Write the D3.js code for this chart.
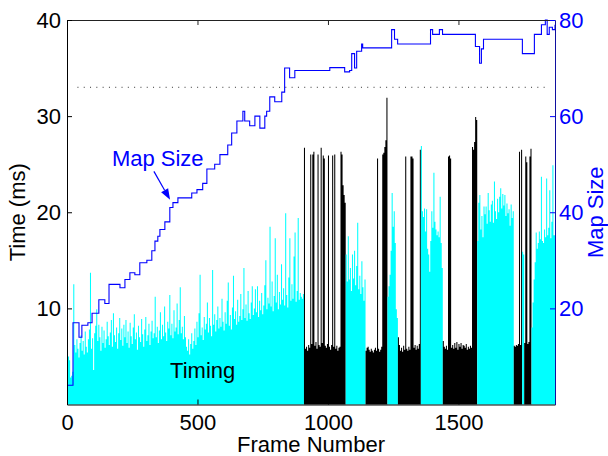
<!DOCTYPE html>
<html>
<head>
<meta charset="utf-8">
<script src="https://cdn.jsdelivr.net/npm/d3@7"></script>
<style>
body { margin: 0; background: #fff; }
text { font-family: "Liberation Sans", Arial, Helvetica, sans-serif; }
</style>
</head>
<body>
<script>
// timing per frame bin (ms), one value per 4 frames
const binSize = 4;
const timing = [
  5.0, 5.0, 4.6, 2.8, 3.0, 3.4, 12.5, 6.2, 5.4, 6.8, 5.8, 4.9, 6.4, 7.2, 5.6, 6.6, 5.2, 7.6, 6.0, 5.4,
  6.8, 7.8, 13.7, 5.8, 6.9, 3.6, 7.4, 8.2, 9.9, 6.6, 8.3, 7.0, 5.6, 8.1, 6.4, 7.7, 5.9, 6.8, 8.6, 7.1,
  6.2, 7.5, 8.8, 6.0, 9.5, 7.2, 6.5, 8.0, 5.8, 7.4, 9.0, 6.7, 7.9, 6.1, 8.3, 7.0, 8.8, 6.4, 7.6, 5.9,
  8.5, 7.1, 6.3, 8.0, 9.4, 6.8, 7.5, 5.7, 8.2, 7.0, 6.5, 8.9, 7.3, 6.0, 7.8, 9.1, 6.6, 7.2, 8.4, 6.2,
  7.6, 8.7, 6.9, 7.4, 11.2, 7.0, 8.1, 6.4, 7.7, 9.6, 6.8, 8.3, 7.1, 10.2, 7.5, 6.6, 8.6, 7.9, 11.4, 7.2,
  8.4, 6.9, 9.8, 7.6, 8.0, 10.5, 7.3, 8.8, 12.2, 7.4, 8.1, 6.8, 9.2, 7.0, 6.0, 5.6, 6.8, 5.2, 6.3, 7.4,
  5.8, 6.6, 7.9, 6.2, 8.6, 7.0, 9.5, 13.5, 7.2, 8.0, 6.7, 9.1, 7.8, 8.4, 10.6, 7.5, 9.0, 8.2, 7.1, 14.0,
  8.3, 9.4, 7.6, 8.8, 10.2, 7.9, 9.0, 8.1, 11.0, 8.6, 7.7, 9.6, 8.4, 10.8, 12.7, 8.2, 9.3, 7.8, 10.1, 13.4,
  8.9, 9.7, 8.3, 10.9, 8.6, 9.2, 11.5, 8.8, 9.9, 14.2, 9.0, 10.4, 8.7, 11.8, 9.5, 8.9, 10.6, 12.3, 9.3, 10.0,
  12.0, 9.6, 12.3, 9.1, 10.8, 9.8, 11.6, 9.4, 10.3, 12.4, 15.0, 9.9, 11.1, 10.5, 18.5, 10.2, 12.8, 9.7, 11.3, 17.3,
  10.6, 13.5, 9.9, 11.7, 10.4, 14.6, 10.9, 12.1, 10.3, 19.9, 11.4, 10.1, 13.2, 17.3, 10.8, 12.5, 11.0, 15.4, 17.9, 10.7,
  11.8, 19.4, 10.9, 11.6, 11.2, 11.0, 11.5,
  // black 908-1068
  26.7, 5.8, 6.0, 5.6, 6.2, 5.9, 26.0, 6.3, 26.0, 26.3, 6.1, 6.5, 5.8, 26.0, 6.2, 6.0, 26.7, 6.4, 25.9, 25.6,
  6.1, 5.9, 6.3, 25.9, 6.0, 5.7, 6.2, 25.9, 6.0, 26.0, 5.8, 6.1, 5.6, 5.9, 6.0, 26.3, 26.0, 22.8, 21.8, 21.0,
  // cyan 1068-1144
  15.6, 12.8, 17.5, 13.0, 14.2, 11.8, 15.6, 13.1, 16.0, 12.4, 14.4, 18.9, 12.0, 13.4, 11.5, 14.9, 12.2, 10.8, 13.0,
  // black 1144-1228
  5.6, 5.9, 6.0, 5.7, 5.5, 5.8, 5.6, 5.4, 5.7, 5.9, 5.6, 25.6, 5.8, 5.5, 5.7, 6.0, 26.0, 26.2, 26.8, 27.5, 31.9,
  // cyan 1228-1268
  11.2, 12.3, 13.5, 16.0, 22.0, 18.5, 20.1, 16.8, 9.9, 9.0,
  // black 1268-1356
  7.0, 6.2, 5.6, 5.9, 5.5, 6.1, 5.7, 25.8, 5.8, 5.6, 6.0, 5.7, 25.8, 25.8, 25.6, 5.9, 6.2, 5.7, 6.1, 5.8, 6.3, 26.5,
  // cyan 1356-1440
  26.9, 20.1, 19.5, 20.4, 18.0, 20.3, 16.2, 15.6, 13.8, 17.0, 20.1, 18.4, 24.1, 19.0, 18.2, 17.6, 18.0, 17.4, 21.6, 16.8, 14.2,
  // black 1440-1572
  6.6, 6.0, 5.8, 6.1, 5.7, 25.8, 25.9, 25.6, 5.9, 6.2, 5.8, 6.4, 5.9, 6.5, 5.7, 6.3, 6.0, 6.4, 5.8, 6.2,
  6.1, 5.9, 6.3, 5.7, 6.0, 5.8, 6.1, 5.9, 26.8, 26.5, 27.3, 29.9, 29.6,
  // cyan 1572-1712
  17.0, 21.0, 21.8, 18.2, 19.6, 17.4, 20.6, 19.8, 20.6, 18.8, 22.0, 20.2, 19.0, 20.8, 21.2, 18.9, 23.2, 20.1, 19.3, 21.4,
  20.0, 21.6, 22.5, 20.4, 21.9, 20.7, 21.8, 19.6, 20.9, 19.9, 20.3, 18.6, 20.8, 19.4, 20.1,
  // black 1712-1744
  6.1, 6.0, 6.2, 6.1, 6.3, 26.3, 6.2, 26.5,
  // cyan 1744-1752
  15.9, 15.6,
  // black 1752-1780
  6.4, 25.8, 25.2, 6.3, 6.5, 25.8, 26.6,
  // cyan 1780-end
  8.0, 10.6, 13.0, 14.8, 17.9, 16.2, 16.8, 18.0, 17.2, 23.7, 17.0, 16.8, 18.2, 17.4, 23.5, 17.6, 18.4, 22.3, 17.3, 19.0,
  24.9, 17.6
];

// frames where the timing mode changes (0 = cyan, 1 = black)
const segStart = [0, 908, 1068, 1144, 1228, 1268, 1356, 1440, 1572, 1712, 1744, 1752, 1780];
const segMode  = [0, 1, 0, 1, 0, 1, 0, 1, 0, 1, 0, 1, 0];

// map size (right axis), step line
const mapFrame = [0, 15, 23, 34, 46, 57, 80, 96, 111, 122, 145, 161, 184, 203, 222, 241, 260, 279, 306, 325,
  337, 348, 356, 375, 394, 406, 425, 444, 478, 498, 520, 536, 566, 586, 616, 631, 651, 674, 681, 700,
  720, 739, 758, 765, 777, 796, 815, 823, 834, 853, 873, 1007, 1064, 1083, 1091, 1102, 1110, 1129, 1133, 1236,
  1244, 1255, 1267, 1389, 1393, 1401, 1420, 1427, 1435, 1439, 1554, 1565, 1581, 1588, 1596, 1741, 1745, 1783, 1791, 1810,
  1818, 1833, 1840, 1848, 1860, 1870];
const mapSize = [4, 4, 17, 17, 14, 16.5, 17, 19, 19, 21.8, 21, 25, 25, 24.3, 26, 27.4, 27, 29.5, 30, 32,
  34, 35, 36.4, 38, 41, 42, 43, 43, 44, 44.7, 46, 49, 50, 52, 54, 56.5, 59, 61, 59, 58,
  60, 57.5, 60, 61, 64, 63, 63, 65, 70, 68, 69.5, 70.1, 69.2, 69.5, 73, 70, 73.5, 75, 74.2, 74.2,
  78, 76, 75, 75, 78, 77, 77, 78, 78, 77, 77, 74.5, 71, 74, 76, 76, 73, 73, 77, 77,
  79, 80, 77, 78.5, 78, 79];

const xTicks = [0, 500, 1000, 1500];
const timeTicks = [10, 20, 30, 40];
const mapTicks = [20, 40, 60, 80];
const refTime = 33;

const W = 608, H = 456;
const margin = {top: 20, right: 53, bottom: 51.5, left: 67};
const xMax = 1870;
const blue = "#0000ff";

const svg = d3.select("body")
    .append("svg")
        .attr("width", W)
        .attr("height", H)
        .style("background", "#fff");

const x = d3.scaleLinear().domain([0, xMax]).range([margin.left, W - margin.right]);
const yL = d3.scaleLinear().domain([0, 40]).range([H - margin.bottom, margin.top]);
const yR = d3.scaleLinear().domain([0, 80]).range([H - margin.bottom, margin.top]);

// one step-area per mode segment (no seams between bins)
const segments = segStart.map((s, k) => {
    const e = k + 1 < segStart.length ? segStart[k + 1] : xMax;
    const pts = [];
    for (let f = s; f < e && f / binSize < timing.length; f += binSize) pts.push([f, timing[f / binSize]]);
    pts.push([e, pts[pts.length - 1][1]]);
    return {mode: segMode[k], pts};
});
const area = d3.area()
    .x(d => x(d[0]))
    .y0(yL(0))
    .y1(d => yL(d[1]))
    .curve(d3.curveStepAfter);
svg.append("g")
    .selectAll("path")
    .data(segments)
    .join("path")
        .attr("d", d => area(d.pts))
        .attr("fill", d => d.mode ? "#000" : "#00ffff");

// reference line
svg.append("line")
    .attr("x1", x(40)).attr("x2", x(1840))
    .attr("y1", yL(refTime)).attr("y2", yL(refTime))
    .attr("stroke", "#333")
    .attr("stroke-width", 1)
    .attr("stroke-dasharray", "1,5.3");

// map size line
const line = d3.line()
    .x(d => x(d[0]))
    .y(d => yR(d[1]))
    .curve(d3.curveStepAfter);
svg.append("path")
    .datum(d3.zip(mapFrame, mapSize))
    .attr("d", line)
    .attr("fill", "none")
    .attr("stroke", blue)
    .attr("stroke-width", 1.1);

// axes
const fs = "22px";
svg.append("g")
    .attr("transform", `translate(0,${yL(0)})`)
    .attr("color", "#000")
    .call(d3.axisBottom(x).tickValues(xTicks).tickFormat(d3.format("d")).tickSize(-5).tickSizeOuter(0).tickPadding(10))
    .call(g => g.selectAll("text").style("font-size", fs));
svg.append("g")
    .attr("transform", `translate(0,${yL(40)})`)
    .attr("color", "#222")
    .call(d3.axisTop(x).tickValues(xTicks).tickSize(-5).tickSizeOuter(0).tickFormat(""));
svg.append("g")
    .attr("transform", `translate(${x(0)},0)`)
    .attr("color", "#000")
    .call(d3.axisLeft(yL).tickValues(timeTicks).tickSize(-5).tickSizeOuter(0).tickPadding(6))
    .call(g => g.selectAll("text").style("font-size", fs));
svg.append("g")
    .attr("transform", `translate(${x(xMax)},0)`)
    .attr("color", blue)
    .call(d3.axisRight(yR).tickValues(mapTicks).tickSize(-5).tickSizeOuter(0).tickPadding(4))
    .call(g => g.selectAll("text").style("font-size", fs))
    .call(g => g.select(".domain").attr("stroke", "#1010a0"));

// axis titles
svg.append("text")
    .attr("transform", `translate(25,${(yL(0) + yL(40)) / 2}) rotate(-90)`)
    .attr("text-anchor", "middle")
    .style("font-size", fs)
    .text("Time (ms)");
svg.append("text")
    .attr("transform", `translate(603,${(yL(0) + yL(40)) / 2}) rotate(-90)`)
    .attr("text-anchor", "middle")
    .style("font-size", fs)
    .attr("fill", blue)
    .text("Map Size");
svg.append("text")
    .attr("x", (x(0) + x(xMax)) / 2)
    .attr("y", 452)
    .attr("text-anchor", "middle")
    .style("font-size", fs)
    .text("Frame Number");

// annotations
svg.append("text")
    .attr("x", x(172)).attr("y", yR(49.7))
    .style("font-size", fs)
    .attr("fill", blue)
    .text("Map Size");
const tail = [x(333), yR(48.5)], tip = [x(395), yR(42.6)];
const ang = Math.atan2(tip[1] - tail[1], tip[0] - tail[0]);
const hl = 11, hw = 4;
const base = [tip[0] - hl * Math.cos(ang), tip[1] - hl * Math.sin(ang)];
svg.append("line")
    .attr("x1", tail[0]).attr("y1", tail[1])
    .attr("x2", base[0]).attr("y2", base[1])
    .attr("stroke", blue).attr("stroke-width", 1.2);
svg.append("polygon")
    .attr("points", [
        tip,
        [base[0] + hw * Math.sin(ang), base[1] - hw * Math.cos(ang)],
        [base[0] - hw * Math.sin(ang), base[1] + hw * Math.cos(ang)]
    ].map(p => p.join(",")).join(" "))
    .attr("fill", blue);

svg.append("text")
    .attr("x", x(395)).attr("y", yL(2.8))
    .style("font-size", fs)
    .text("Timing");
</script>
</body>
</html>
